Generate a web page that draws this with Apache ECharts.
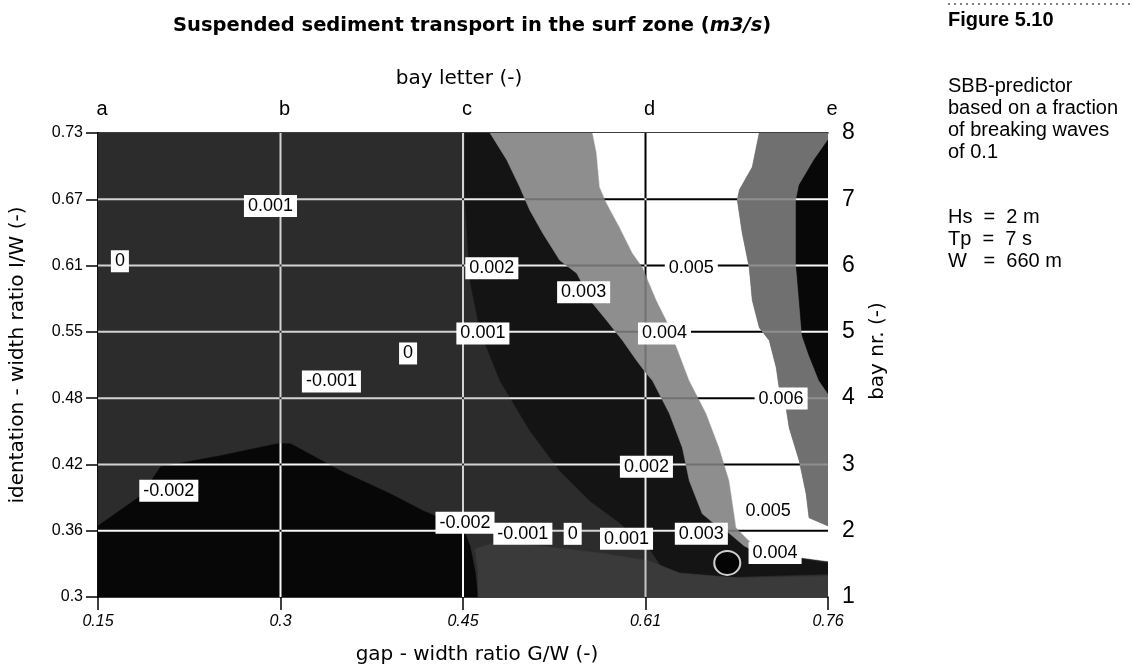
<!DOCTYPE html>
<html><head><meta charset="utf-8">
<script src="https://cdn.jsdelivr.net/npm/echarts@6/dist/echarts.min.js"></script>
<style>html,body{margin:0;padding:0;background:#fff}#c{width:1133px;height:671px}</style>
</head><body><div id="c"></div>
<script>
// ---- axis categories / tick labels ----
const bayLetters = ['a', 'b', 'c', 'd', 'e'];
const gapTicks = ['0.15', '0.3', '0.45', '0.61', '0.76'];
const bayNumbers = ['1', '2', '3', '4', '5', '6', '7', '8'];
const indentTicks = ['0.3', '0.36', '0.42', '0.48', '0.55', '0.61', '0.67', '0.73'];

// ---- contour bands: vertices in (bay letter index, bay nr) coordinates ----
const bandBase = [[0,1],[4,1],[4,8],[0,8]];
const bandBelowM002 = [[0,1],[0,2.073],[0.235,2.527],[0.344,2.966],[0.672,3.132],[0.984,3.313],[1.055,3.313],[1.328,2.905],[1.601,2.557],[1.781,2.300],[2.0,2.043],[2.038,1.771],[2.066,1.393],[2.082,1]];
const bandRidge = [[2.011,8],[2.148,8],[2.240,7.592],[2.311,7.184],[2.366,6.836],[2.437,6.488],[2.530,6.080],[2.623,5.884],[2.710,5.430],[2.787,5.173],[2.874,4.871],[2.951,4.568],[3.005,4.372],[3.038,4.266],[3.131,3.767],[3.202,3.253],[3.240,2.754],[3.311,2.255],[3.404,2.043],[3.443,1.998],[3.541,1.771],[3.596,1.695],[3.989,1.514],[4,1.514],[4,1.348],[3.623,1.318],[3.295,1.287],[3.104,1.393],[3.022,1.726],[2.858,2.119],[2.694,2.451],[2.530,2.905],[2.366,3.510],[2.202,4.266],[2.093,5.022],[2.038,5.778],[2.011,6.987]];
const bandBottom = [[2.082,1],[2.082,1.393],[2.066,1.726],[2.202,1.847],[2.421,1.771],[2.749,1.665],[3.022,1.544],[3.186,1.363],[3.514,1.287],[4,1.318],[4,1]];
const bandMid = [[2.148,8],[2.240,7.592],[2.311,7.184],[2.366,6.836],[2.437,6.488],[2.530,6.080],[2.623,5.884],[2.710,5.430],[2.787,5.173],[2.874,4.871],[2.951,4.568],[3.005,4.372],[3.038,4.266],[3.131,3.767],[3.202,3.253],[3.240,2.754],[3.311,2.255],[3.404,2.043],[3.443,1.998],[3.541,1.771],[3.596,1.695],[3.585,1.801],[3.497,2.043],[3.486,2.255],[3.459,2.754],[3.404,3.253],[3.333,3.767],[3.240,4.266],[3.115,5.173],[3.060,5.475],[2.984,5.974],[2.929,6.186],[2.858,6.579],[2.787,6.942],[2.749,7.184],[2.732,7.698],[2.710,8]];
const bandHigh = [[2.710,8],[2.732,7.698],[2.749,7.184],[2.787,6.942],[2.858,6.579],[2.929,6.186],[2.984,5.974],[3.060,5.475],[3.115,5.173],[3.240,4.266],[3.333,3.767],[3.404,3.253],[3.459,2.754],[3.486,2.255],[3.497,2.043],[3.585,1.801],[3.596,1.695],[3.787,1.620],[3.989,1.544],[4,1.544],[4,2.073],[3.896,2.194],[3.880,2.557],[3.842,3.056],[3.787,3.555],[3.770,3.858],[3.732,4.160],[3.716,4.462],[3.678,4.871],[3.623,5.067],[3.585,5.475],[3.568,5.974],[3.530,6.488],[3.503,6.987],[3.514,7.139],[3.585,7.486],[3.623,8]];
const bandOver006 = [[3.623,8],[4,8],[4,7.894],[3.923,7.592],[3.842,7.214],[3.825,6.987],[3.825,6.020],[3.842,5.475],[3.858,4.946],[3.896,4.644],[3.951,4.266],[4,4.069],[4,2.073],[3.896,2.194],[3.880,2.557],[3.842,3.056],[3.787,3.555],[3.770,3.858],[3.732,4.160],[3.716,4.462],[3.678,4.871],[3.623,5.067],[3.585,5.475],[3.568,5.974],[3.530,6.488],[3.503,6.987],[3.514,7.139],[3.585,7.486]];
const bandEdge = [[4,7.894],[3.923,7.592],[3.842,7.214],[3.825,6.987],[3.825,6.020],[3.842,5.475],[3.858,4.946],[3.896,4.644],[3.951,4.266],[4,4.069]];

// ---- contour labels ----
const labelTexts = ['0.001','0','0.002','0.003','0.001','0.004','0.005','0','-0.001','0.006','0.002','-0.002','-0.002','-0.001','0','0.001','0.003','0.005','0.004'];
const labelX = [0.945,0.120,2.158,2.661,2.109,3.104,3.251,1.699,1.279,3.743,3.005,0.388,2.011,2.328,2.601,2.896,3.306,3.672,3.710];
const labelY = [6.897,6.065,5.959,5.596,4.976,4.976,5.959,4.674,4.251,3.994,2.966,2.603,2.119,1.953,1.953,1.877,1.953,2.300,1.665];

// ---- marked location ----
const markerX = [3.448];
const markerY = [1.514];

// ---- side notes ----
const noteLines = ['SBB-predictor', 'based on a fraction', 'of breaking waves', 'of 0.1'];
const paramLines = ['Hs  =  2 m', 'Tp  =  7 s', 'W   =  660 m'];

// ---- styling (not data) ----
const regions = [bandBase, bandBelowM002, bandRidge, bandBottom, bandMid, bandHigh, bandOver006, bandEdge];
const regionFill = ['#2c2c2c', '#070707', '#141414', '#3a3a3a', '#8e8e8e', '#ffffff', '#707070', '#080808'];
const NARROW = "'Liberation Sans Narrow', 'Liberation Sans', Arial, sans-serif";
const SANS = "'Liberation Sans', Arial, sans-serif";
const DEJA = "'DejaVu Sans', Verdana, sans-serif";

const gridRows = bayNumbers.map(Number).filter(v => v > 1 && v < bayNumbers.length);
const gridCols = bayLetters.map((d, i) => i).filter(i => i > 0 && i < bayLetters.length - 1);

const chart = echarts.init(document.getElementById('c'), null, { renderer: 'canvas', width: 1133, height: 671 });

const axisLineStyle = { color: '#000', width: 1.5 };

const sideText = [];
sideText.push({ type: 'line', shape: { x1: 948, y1: 4, x2: 1133, y2: 4 }, style: { stroke: '#555', lineWidth: 1.5, lineDash: [2, 4] } });
sideText.push({ type: 'text', left: 948, top: 10, style: { text: 'Figure 5.10', font: 'bold 20px ' + SANS, fill: '#000' } });
noteLines.forEach((t, i) => sideText.push({ type: 'text', left: 948, top: 76 + i * 22, style: { text: t, font: '20px ' + SANS, fill: '#000' } }));
paramLines.forEach((t, i) => sideText.push({ type: 'text', left: 948, top: 207 + i * 22, style: { text: t, font: '20px ' + SANS, fill: '#000' } }));

const option = {
  backgroundColor: '#ffffff',
  animation: false,
  title: {
    text: 'Suspended sediment transport in the surf zone ({i|m3/s})',
    left: 168, top: 11,
    textStyle: {
      fontFamily: DEJA, fontWeight: 'bold', fontSize: 19.5, color: '#000',
      rich: { i: { fontFamily: DEJA, fontWeight: 'bold', fontStyle: 'italic', fontSize: 19.5, color: '#000' } }
    }
  },
  grid: { left: 97, right: 305, top: 133, bottom: 74, containLabel: false },
  xAxis: [
    {
      type: 'value', position: 'bottom', min: 0, max: bayLetters.length - 1, interval: 1,
      axisLine: { show: true, lineStyle: axisLineStyle },
      axisTick: { show: true, length: 13, lineStyle: axisLineStyle },
      axisLabel: { formatter: v => gapTicks[Math.round(v)], fontFamily: SANS, fontStyle: 'italic', fontSize: 16, color: '#000', margin: 17 },
      splitLine: { show: false },
      name: 'gap - width ratio G/W (-)', nameLocation: 'middle', nameGap: 48,
      nameTextStyle: { fontFamily: DEJA, fontSize: 20, color: '#000', padding: [0, 0, 0, 28] }
    },
    {
      type: 'value', position: 'top', min: 0, max: bayLetters.length - 1, interval: 1,
      axisLine: { show: true, lineStyle: axisLineStyle },
      axisTick: { show: false },
      axisLabel: { formatter: v => bayLetters[Math.round(v)], fontFamily: SANS, fontSize: 20, color: '#000', margin: 14, padding: [0, 0, 0, 8] },
      splitLine: { show: false },
      name: 'bay letter (-)', nameLocation: 'middle', nameGap: 44,
      nameTextStyle: { fontFamily: DEJA, fontSize: 20, color: '#000', padding: [0, 8, 0, 0] }
    }
  ],
  yAxis: [
    {
      type: 'value', position: 'left', min: 1, max: bayNumbers.length, interval: 1,
      axisLine: { show: true, lineStyle: axisLineStyle },
      axisTick: { show: true, length: 12, lineStyle: axisLineStyle },
      axisLabel: { formatter: v => indentTicks[Math.round(v) - 1], fontFamily: SANS, fontSize: 16, color: '#000', margin: 15 },
      splitLine: { show: false },
      name: 'identation - width ratio I/W (-)', nameLocation: 'middle', nameGap: 70, nameRotate: 90,
      nameTextStyle: { fontFamily: DEJA, fontSize: 20, color: '#000', padding: [0, 0, 0, 20] }
    },
    {
      type: 'value', position: 'right', min: 1, max: bayNumbers.length, interval: 1,
      axisLine: { show: true, lineStyle: axisLineStyle },
      axisTick: { show: false },
      axisLabel: { formatter: v => bayNumbers[Math.round(v) - 1], fontFamily: NARROW, fontSize: 23, color: '#000', margin: 14 },
      splitLine: { show: false },
      name: 'bay nr. (-)', nameLocation: 'middle', nameGap: 40, nameRotate: 90,
      nameTextStyle: { fontFamily: DEJA, fontSize: 20, color: '#000', padding: [0, 0, 0, 28] }
    }
  ],
  graphic: sideText,
  series: [
    {
      type: 'custom', coordinateSystem: 'cartesian2d', xAxisIndex: 0, yAxisIndex: 0,
      silent: true, clip: true, z: 1,
      data: regions.map(r => r[0]),
      renderItem: (params, api) => {
        const poly = regions[params.dataIndex];
        return { type: 'polygon', shape: { points: poly.map(p => api.coord(p)) }, style: { fill: regionFill[params.dataIndex], stroke: regionFill[params.dataIndex], lineWidth: 0.5 } };
      }
    },
    {
      type: 'scatter', xAxisIndex: 0, yAxisIndex: 0, silent: true, z: 2,
      symbol: 'circle', symbolSize: [26, 24],
      itemStyle: { color: '#000', borderColor: '#fff', borderWidth: 2 },
      data: markerX.map((x, i) => [x, markerY[i]])
    },
    {
      type: 'custom', coordinateSystem: 'cartesian2d', xAxisIndex: 0, yAxisIndex: 0,
      silent: true, clip: true, z: 3, blendMode: 'difference',
      data: [[0, 1]],
      renderItem: (params, api) => {
        const children = [];
        gridRows.forEach(y => {
          const a = api.coord([0, y]), b = api.coord([bayLetters.length - 1, y]);
          children.push({ type: 'line', shape: { x1: a[0], y1: a[1], x2: b[0], y2: b[1] }, style: { stroke: '#ffffff', lineWidth: 2 } });
        });
        gridCols.forEach(x => {
          const a = api.coord([x, 1]), b = api.coord([x, bayNumbers.length]);
          children.push({ type: 'line', shape: { x1: a[0], y1: a[1], x2: b[0], y2: b[1] }, style: { stroke: '#ffffff', lineWidth: 2 } });
        });
        return { type: 'group', children };
      }
    },
    {
      type: 'custom', coordinateSystem: 'cartesian2d', xAxisIndex: 0, yAxisIndex: 0,
      silent: true, clip: false, z: 4,
      data: labelX.map((x, i) => [x, labelY[i]]),
      renderItem: (params, api) => {
        const p = api.coord([api.value(0), api.value(1)]);
        return { type: 'text', x: p[0], y: p[1], style: { text: labelTexts[params.dataIndex], fill: '#000', backgroundColor: '#fff', padding: [2, 4, 2, 4], font: '18px ' + NARROW, align: 'center', verticalAlign: 'middle' } };
      }
    }
  ]
};
chart.setOption(option);
</script></body></html>
